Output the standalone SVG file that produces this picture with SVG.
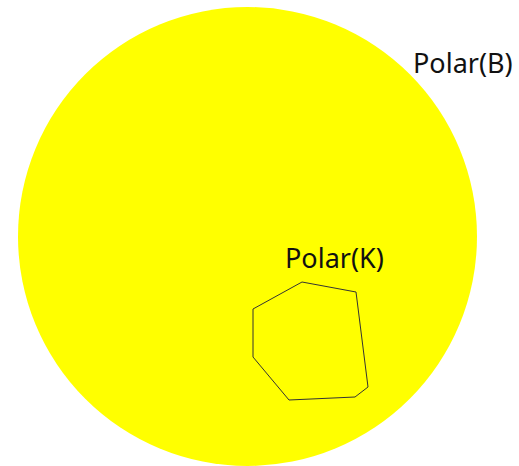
<svg xmlns="http://www.w3.org/2000/svg" width="519" height="466" viewBox="0 0 519 466">
<style>
.lbl{font-family:"Noto Sans","Open Sans",sans-serif;font-size:27px;fill:#111}
</style>
<rect width="519" height="466" fill="#ffffff"/>
<g id="polarB">
<circle cx="247.5" cy="236.5" r="229.5" fill="#ffff00"/>
<text class="lbl" x="413" y="73">Polar(B)</text>
</g>
<g id="polarK">
<polygon points="302,282 356,292 368,387 355,397 289,400 253,357 253,309" fill="none" stroke="#333" stroke-width="1"/>
<text class="lbl" x="285" y="268">Polar(K)</text>
</g>
<g id="connectors"></g>
</svg>
